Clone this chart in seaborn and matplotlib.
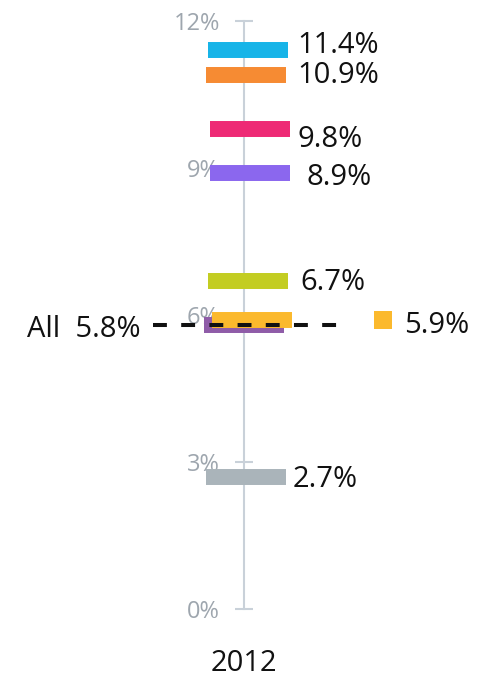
import numpy as np
import pandas as pd
import matplotlib
matplotlib.use("Agg")
import matplotlib.pyplot as plt
import seaborn as sns

# values (%)
groups = ["g1", "g2", "g3", "g4", "g5", "g6", "g7", "g8"]
values = [11.4, 10.9, 9.8, 8.9, 6.7, 5.9, 5.8, 2.7]
colors = ["#17b4e8", "#f68b33", "#ee2a75", "#8b67ee", "#c3cd22", "#fbb92d", "#8f5ca8", "#aab4ba"]
show_label = [True, True, True, True, True, False, False, True]
all_value = 5.8
year = "2012"
yticks = [0, 3, 6, 9, 12]
ytick_labels = ["0%", "3%", "6%", "9%", "12%"]

# layout (pixels relative to the axis line)
bar_center = [4, 2, 6, 6, 4, 8, 0, 2]
label_x = [53, 53, 54, 63, 56, 0, 0, 49]
label_dy = [8, 2, -8, -2, 1, 0, 0, 0]

df = pd.DataFrame({"group": groups, "value": values, "color": colors,
                   "cx": bar_center, "lx": label_x, "ldy": label_dy, "show": show_label})

sns.set_theme(style="white")
plt.rcParams["font.family"] = ["Open Sans", "DejaVu Sans"]

W, H = 485, 680
fig = plt.figure(figsize=(W / 100, H / 100), dpi=100)
ax = fig.add_axes([0, (H - 609) / H, 1, (609 - 21) / H])
ax.set_xlim(-244, W - 244)
ax.set_ylim(0, 12)

axis_col = "#c9d1d9"
# bars (drawn bottom-up so higher groups sit on top where they overlap)
rev = df.iloc[::-1]
ax.hlines(rev["value"], rev["cx"] - 40, rev["cx"] + 40, colors=rev["color"],
          lw=11.5, capstyle="butt", zorder=2)

# value labels
half_cap = 10.4
for _, r in df[df["show"]].iterrows():
    ax.annotate(f"{r['value']:.1f}%", (r["lx"], r["value"]),
                xytext=(0, r["ldy"] - half_cap), textcoords="offset pixels",
                ha="left", va="baseline", fontsize=21, color="#111111", zorder=5)

# 5.9% legend-like marker
sns.scatterplot(x=[139], y=[values[5]], marker="s", s=185, color=colors[5],
                linewidth=0, ax=ax, zorder=5)
ax.annotate(f"{values[5]:.1f}%", (160, values[5]), xytext=(0, -3 - half_cap),
            textcoords="offset pixels", ha="left", va="baseline",
            fontsize=21, color="#111111")

# "All" average line
ax.plot([-91, 94], [all_value, all_value], color="#111111", lw=2.9,
        dashes=(3.45, 3.55), zorder=4)
ax.annotate(f"All  {all_value:.1f}%", (-103, all_value), xytext=(0, -2 - half_cap),
            textcoords="offset pixels", ha="right", va="baseline",
            fontsize=21, color="#111111")

# axes styling
sns.despine(ax=ax, top=True, right=True, bottom=True, left=False)
ax.spines["left"].set_position(("data", 0))
ax.spines["left"].set_color(axis_col)
ax.spines["left"].set_linewidth(1.5)
ax.spines["left"].set_zorder(1)
ax.set_yticks(yticks)
ax.set_yticklabels(ytick_labels)
ax.tick_params(axis="y", direction="inout", length=13, width=1.5, color=axis_col,
               labelcolor="#9ea6ae", labelsize=17, pad=11, left=True)
ax.set_xticks([0])
ax.set_xticklabels([year])
ax.tick_params(axis="x", length=0, labelsize=21, labelcolor="#111111", pad=29)
ax.set_xlabel("")
ax.set_ylabel("")
ax.grid(False)

fig.savefig("out.png", dpi=100)
